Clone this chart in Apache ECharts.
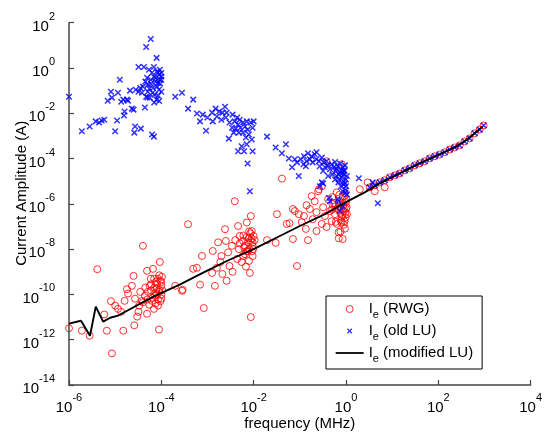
<!DOCTYPE html>
<html>
<head>
<meta charset="utf-8">
<script src="https://cdn.jsdelivr.net/npm/echarts@6/dist/echarts.min.js"></script>
<style>
html,body{margin:0;padding:0;background:#fff;}
#chart{width:545px;height:436px;}
</style>
</head>
<body>
<div id="chart"></div>
<script>
// ---- data: [frequency (MHz), current amplitude (A)] ----
const xTicks = [1e-6, 1e-4, 1e-2, 1e0, 1e2, 1e4];
const yTicks = [1e-14, 1e-12, 1e-10, 1e-8, 1e-6, 1e-4, 1e-2, 1e0, 1e2];
const seriesNames = ['Ie (RWG)', 'Ie (old LU)', 'Ie (modified LU)'];

const rwgScatter = [
 [1e-6,3.2e-12],[1.9e-6,2.5e-12],[2.8e-6,1.5e-12],[4.1e-6,1.3e-9],[5.8e-6,1.3e-11],[6.6e-6,2.5e-12],
 [8.1e-6,5e-11],[8.5e-6,2.5e-13],[1e-5,3.2e-11],[1.15e-5,2.3e-11],[1.35e-5,1.7e-11],[1.5e-5,2.5e-12],
 [1.6e-5,5.2e-11],[1.8e-5,1.7e-10],[1.9e-5,1.1e-10],[2.3e-5,2.4e-10],[2.5e-5,6.6e-10],[2.6e-5,4.3e-12],
 [2.7e-5,6.5e-11],[3e-5,1.05e-11],[3.2e-5,1.7e-11],[3.3e-5,3.2e-11],[3.5e-5,1.3e-10],[3.8e-5,5.2e-11],
 [4e-5,1.4e-8],[4.4e-5,8.7e-11],[4.9e-5,1.4e-11],[4.9e-5,1.1e-9],[5.1e-5,1.3e-10],[5.6e-5,2.4e-10],
 [5.9e-5,4.9e-10],[6.3e-5,5.2e-11],[6.6e-5,1.35e-9],[6.9e-5,2.3e-11],[7.2e-5,8.7e-11],[7.6e-5,3.6e-10],
 [7.9e-5,1.8e-10],[8.5e-5,4.9e-10],[8.5e-5,3.2e-11],[8.9e-5,1.3e-10],[9.3e-5,2.7e-9],[1e-4,2.4e-10],
 [8.9e-5,2.8e-12],[1e-4,6.5e-11],[1.03e-4,6e-10],[2e-4,2.4e-10],[2.8e-4,1.45e-10],[4.9e-4,1.35e-9],
 [5.9e-4,1.5e-9],[6.9e-4,2.7e-10],[7.6e-4,5e-9],[8.3e-4,2.5e-11],[3.8e-4,1.26e-7],
 [6e-5,1.5e-10],[7e-5,2e-10],[8e-5,1e-10],[9e-5,1.6e-10],[6.5e-5,7e-11],[7.5e-5,4e-11],[8e-5,3e-10],
 [9.5e-5,4e-10],[5.5e-5,3.5e-11],[1e-4,1e-10],[4.5e-5,2e-10],[9e-5,7e-10],[7e-5,5e-10],[1.05e-4,1.5e-10],
 [5e-5,6e-11],[6e-5,2.8e-10],[8.5e-5,6e-11],[1e-4,3.5e-10],[4e-5,4.5e-11],[9.5e-5,5e-11],[7.5e-5,1.2e-10],
 [2.9e-4,1.6e-10],[1.45e-3,2.4e-10],[1.26e-3,8.9e-10],[1.3e-3,8.3e-9],[1.6e-3,1.5e-9],[1.7e-3,2e-8],
 [1.9e-3,2.7e-9],[2e-3,5e-9],[2.1e-3,8e-10],[2.4e-3,7.6e-8],[2.5e-3,2.3e-8],[2.6e-3,4e-10],[2.8e-3,7.2e-9],
 [3e-3,1.8e-9],[3.4e-3,1.4e-8],[3.5e-3,1e-9],[3.9e-3,1.3e-6],[4.4e-3,3.7e-9],[4.6e-3,1.05e-7],[4.8e-3,1e-8],
 [5e-3,3.8e-8],[5.5e-3,2.7e-9],[5.9e-3,2.3e-8],[5.9e-3,5e-9],[6.5e-3,1.4e-8],[6.8e-3,1.7e-9],[7.1e-3,1.5e-7],
 [7.1e-3,3.4e-8],[7.4e-3,8.3e-9],[7.9e-3,3e-9],[8.3e-3,8.9e-10],[8.7e-3,2.3e-8],[8.7e-3,2.9e-7],[9.1e-3,6.3e-8],
 [9.5e-3,1.4e-8],[9.5e-3,5e-9],[1e-2,3.8e-8],[7.5e-3,2e-8],[8e-3,1e-8],[6e-3,4e-8],[9e-3,3e-8],[5e-3,1.8e-8],
 [8.5e-3,5e-8],[6.5e-3,6e-9],[9.5e-3,2e-8],[4e-3,2.5e-8],[7e-3,8e-9],[8.7e-3,1e-11],
 [8e-3,6e-8],[9.8e-3,1e-8],[6.2e-3,1.2e-8],[7.8e-3,3e-8],[9.2e-3,8e-9],[1.05e-2,2.5e-8],
 [1.95e-2,2.5e-8],[3e-2,1.9e-8],[3.2e-2,3.5e-7],[5.2e-2,1.3e-7],[6e-2,1.4e-7],[7.1e-2,2.8e-8],[7.8e-2,4.8e-7],
 [8.7e-2,1.8e-9],[9.5e-2,3.5e-7],[1.1e-1,1.55e-7],[1.23e-1,2.9e-7],[1.35e-1,7.8e-8],[1.4e-1,8.7e-7],
 [1.5e-1,2.5e-8],[1.65e-1,5.9e-7],[1.8e-1,2.2e-6],[1.9e-1,2.1e-7],[2.1e-1,1.3e-6],[2.3e-1,6.3e-8],
 [2.3e-1,4.3e-7],[2.6e-1,4.4e-6],[3e-1,1.3e-7],[3.2e-1,7.1e-7],[3.5e-1,2.9e-7],[3.8e-1,9.5e-8],[4.1e-1,1.6e-6],
 [4.5e-1,4.8e-7],[4.9e-1,1.7e-7],[5.1e-1,9.8e-7],[5.8e-1,3.5e-7],[6.3e-1,3.2e-6],[6.3e-1,1.3e-7],[6.9e-1,5.6e-8],
 [7.4e-1,7.1e-7],[8.1e-1,2.6e-7],[8.5e-1,2e-6],[8.5e-1,2.8e-8],[8.9e-1,4.8e-7],[9.3e-1,1.7e-7],[1,1.2e-6],
 [1.05,3.5e-7],[4.1e-2,1.3e-5],[3.8e-1,7.6e-5],[8.1e-1,5.6e-5],[2,4.4e-6],[2.95,8.9e-6],[2.5e-1,3.6e-6],
 [3e-1,6e-6],[5.1e-1,2e-6],[7.1e-2,5.9e-7],[4.2,3.6e-6],[6.9,5.4e-6],
 [9e-1,6e-7],[7e-1,1e-6],[9.5e-1,3e-6],[6e-1,8e-7],[8e-1,1.5e-7],[1,6e-7],[7.5e-1,4e-7],
 [0.55,1.1e-6],[0.65,6e-7],[0.72,2.5e-6],[0.78,1.8e-7],[0.88,9e-7],[0.92,2.2e-6],[0.97,4e-7],[1.02,1.5e-6],
 [0.83,3.2e-7],[0.6,1.6e-7],[0.5,5.5e-7],[0.7,3e-8],[0.95,8e-8],[0.9,1.2e-7],[1.03,7e-7],[0.98,2.5e-7],
 [0.86,1.1e-6],[0.76,6e-8]
];

const bandPoints = [
 [3.27,5.4e-6],[4.2,6.6e-6],[5.4,8.9e-6],[6.9,1.1e-5],[8.9,1.5e-5],[11.4,1.8e-5],[14.6,2.2e-5],
 [18.8,3.0e-5],[24,3.7e-5],[30.8,5.0e-5],[39.6,6.2e-5],[50.8,7.6e-5],[65,1.02e-4],[84,1.26e-4],
 [107,1.5e-4],[138,1.9e-4],[177,2.5e-4],[226,3.1e-4],[290,3.8e-4],[372,5.7e-4],[478,7.8e-4],
 [614,1.3e-3],[787,1.9e-3],[962,2.9e-3]
];

const oldLuScatter = [
 [1e-6,5.4e-2],[1.9e-6,1.6e-3],[2.8e-6,2.6e-3],[3.8e-6,4.4e-3],[4.5e-6,3.9e-3],[5.1e-6,4.8e-3],[5.8e-6,5.2e-3],
 [6.9e-6,3.6e-2],[8.1e-6,8.9e-2],[8.5e-6,4.9e-2],[1e-5,1.6e-3],[1.1e-5,4.8e-3],[1.15e-5,8.1e-2],[1.26e-5,3e-1],
 [1.35e-5,3.2e-2],[1.5e-5,4e-2],[1.55e-5,7.9e-3],[1.6e-5,1.2e-2],[1.8e-5,4e-2],[1.9e-5,3.6e-2],[2.1e-5,1e-1],
 [2.3e-5,1.6e-2],[2.5e-5,1.45e-2],[2.6e-5,1.4e-3],[2.7e-5,2.6e-3],[2.8e-5,1.1e-1],[3.2e-5,1.1],[3.2e-5,8.9e-2],
 [3.5e-5,1.3e-1],[3.6e-5,2.1e-3],[3.8e-5,8.1e-2],[4e-5,1.5e-1],[4.2e-5,1.1],[4.4e-5,1.8e-2],[4.7e-5,8.5],
 [4.7e-5,5.4e-2],[4.9e-5,3.7e-1],[5.1e-5,8.9e-2],[5.1e-5,1.8e-1],[5.4e-5,8.3e-1],[5.6e-5,4.9e-2],[5.9e-5,19],
 [5.9e-5,3e-1],[6.3e-5,1.15e-3],[6.3e-5,6.2e-1],[6.6e-5,1.3e-1],[6.9e-5,9.3e-4],[6.9e-5,1.1],[7.2e-5,6.6e-2],
 [7.6e-5,3.7e-1],[7.9e-5,2.8],[7.9e-5,4e-2],[8.5e-5,2.2e-1],[8.5e-5,6.2e-1],[8.9e-5,1.1e-1],[9.3e-5,8.3e-1],
 [9.3e-5,3e-1],[1e-4,8.9e-2],[1e-4,4.2e-1],[2e-4,5.4e-2],[2.8e-4,8.1e-2],[3.8e-4,1.6e-2],[4.9e-4,4e-2],
 [5.9e-4,9.8e-3],[6.9e-4,4.4e-3],
 [6e-5,2e-1],[7e-5,4e-1],[8e-5,1.5e-1],[9e-5,5e-1],[6.5e-5,8e-2],[7.5e-5,2.5e-1],[8.5e-5,6e-2],[9.5e-5,2e-1],
 [5.5e-5,1.2e-1],[1e-4,3e-1],[4.5e-5,2.5e-1],[8e-5,7e-1],[7e-5,3e-2],[1e-4,6e-1],[5e-5,5e-2],[9e-5,3.5e-2],
 [7.9e-4,8.7e-3],[9.3e-4,1.7e-3],[1e-3,6.5e-3],[1.26e-3,1.07e-2],[1.3e-3,4.4e-3],[1.5e-3,1.6e-2],[1.6e-3,7.2e-3],
 [1.8e-3,1.2e-2],[2e-3,5.2e-3],[2.1e-3,1.07e-2],[2.4e-3,1.95e-2],[2.5e-3,6.5e-3],[2.6e-3,1.07e-2],[2.9e-3,7.6e-4],
 [3e-3,3.9e-3],[3.4e-3,2.3e-3],[3.5e-3,8.7e-3],[3.7e-3,1.4e-3],[3.9e-3,4.4e-3],[4.1e-3,2.1e-3],[4.4e-3,6.5e-3],
 [4.6e-3,2.1e-4],[4.6e-3,3.2e-3],[4.8e-3,1.4e-3],[5e-3,5.2e-3],[5.2e-3,2.3e-3],[5.5e-3,3.5e-4],[5.9e-3,3.9e-3],
 [5.9e-3,1.4e-3],[6.2e-3,2.1e-4],[6.5e-3,2.6e-3],[6.8e-3,8.5e-4],[7.1e-3,4.4e-3],[7.1e-3,4.3e-4],[7.4e-3,1.9e-3],
 [7.4e-3,6e-5],[7.9e-3,1.15e-3],[8.3e-3,3.6e-6],[8.7e-3,3.9e-3],[9.1e-3,6.9e-4],[9.5e-3,2.1e-4],[9.5e-3,2.3e-3],
 [1e-2,4.4e-3],[1.95e-2,9.3e-4],[3e-2,3.1e-4],[4.1e-2,1.7e-4],[5e-2,4.3e-4],[5.8e-2,1e-4],[6.8e-2,4.1e-5],
 [7.8e-2,9.3e-5],[8.7e-2,6.8e-5],[9.5e-2,1.7e-5],[1.05e-1,9.3e-5],[1.2e-1,5.6e-5],[1.23e-1,1.26e-4],[1.35e-1,4.6e-5],
 [1.4e-1,7.6e-5],[1.5e-1,1.7e-4],[1.65e-1,9.3e-5],[1.8e-1,1.26e-4],[1.9e-1,6.8e-5],[2.1e-1,1.55e-4],[2.3e-1,1.9e-4],
 [2.3e-1,9.3e-5],[2.6e-1,7.6e-5],[2.7e-1,4.6e-5],[3e-1,1.1e-4],[3.2e-1,2.8e-5],[3.3e-1,6.8e-5],[3.5e-1,4.1e-5],
 [3.8e-1,7.6e-5],[4.1e-1,1.7e-5],[4.1e-1,5e-5],[4.5e-1,3.4e-5],[4.9e-1,5.6e-5],[5.1e-1,2e-5],[5.5e-1,4.1e-5],
 [5.8e-1,1.2e-5],[6e-1,2.8e-5],[6.3e-1,1.7e-5],[6.6e-1,4.6e-5],[6.9e-1,8.9e-6],[7.4e-1,2.5e-5],[7.8e-1,6e-6],
 [8.1e-1,1.5e-5],[8.5e-1,4.1e-5],[8.5e-1,3.6e-6],[8.9e-1,1e-5],[9.3e-1,2.8e-5],[1,6e-6],[1.05,1.7e-5],[1.05,2.6e-6],
 [4.9,1.07e-6],[1.9,1.35e-5],[3.8,8.9e-6],[4.3e-1,1.8e-6],[6.9e-1,1.3e-6],[3.2e-1,7.9e-6],[3e-1,8.9e-6],
 [4.5e-1,1.3e-6],[6.6e-1,1.6e-6],[7.4e-1,4.8e-7],[8.5e-1,7.9e-7],[2.7e-1,6e-6],
 [9e-1,2e-5],[9.5e-1,8e-6],[8e-1,3e-5],[7e-1,1.2e-5],[9.8e-1,4e-6],
 [0.95,5e-5],[0.9,3e-5],[0.75,6e-5],[0.58,7e-5],[0.62,3.5e-5],[0.82,2.2e-5],[0.88,7e-6],[1.0,1.2e-5],
 [0.97,3e-6],[0.7,2e-5]
];

const modifiedLu = [
 [1e-6,5.1e-12],[1.82e-6,6.9e-12],[2.85e-6,1.5e-12],[3.8e-6,2.9e-11],[5.5e-6,6.3e-12],[7.8e-6,9.3e-12],
 [1.15e-5,1.15e-11],[1.9e-5,2.0e-11],[3.5e-5,3.9e-11],[7.3e-5,8.7e-11],[2.5e-4,2.7e-10],[8.7e-4,1e-9],
 [3.0e-3,3.4e-9],[1e-2,1.0e-8],[3.7e-2,3.8e-8],[0.1,1.05e-7],[0.35,3.5e-7],[1,1.2e-6],[2.6,3.3e-6],
 [5.4,8.1e-6],[14.5,2.2e-5],[40,6.2e-5],[107,1.55e-4],[224,3.1e-4],[372,5.8e-4],[617,1.3e-3],[912,2.6e-3]
];

const FONT = '"Liberation Sans", Arial, sans-serif';
function expLabel(v) {
  const e = Math.round(Math.log10(v));
  return '{b|10}{s|' + e + '}';
}
const labelRich = {
  b: { fontSize: 15, lineHeight: 15, padding: [8, 0, 0, 0], fontFamily: FONT, color: '#000' },
  s: { fontSize: 11, lineHeight: 11, padding: [0, 0, 12, 0], fontFamily: FONT, color: '#000' }
};
const axisCol = '#444';

// legend icons (28x14 boxes, extra moveTo keeps the box size)
const iconCircle = 'path://M0,0M28,14M10.5,7A3.5,3.5,0,1,0,17.5,7A3.5,3.5,0,1,0,10.5,7Z';
const iconCross = 'path://M0,0M28,14M11.8,4.8L16.2,9.2M16.2,4.8L11.8,9.2';
const iconLine = 'path://M0,0M28,14M0,6.1H28V7.9H0Z';

const chart = echarts.init(document.getElementById('chart'), null, { renderer: 'canvas' });
chart.setOption({
  animation: false,
  backgroundColor: '#fff',
  grid: { left: 69, right: 14, top: 22.7, bottom: 49.3, containLabel: false },
  xAxis: {
    type: 'log', logBase: 10, min: xTicks[0], max: xTicks[xTicks.length - 1], interval: 2,
    name: 'frequency (MHz)', nameLocation: 'middle', nameGap: 31, nameMoveOverlap: false,
    nameTextStyle: { fontSize: 15, fontFamily: FONT, color: '#000' },
    axisLine: { show: true, onZero: false, lineStyle: { color: axisCol, width: 1.5 } },
    axisTick: { show: true, inside: true, length: 5, lineStyle: { color: axisCol, width: 1.2 } },
    minorTick: { show: false },
    splitLine: { show: false },
    axisLabel: { margin: 11, formatter: expLabel, rich: labelRich, showMinLabel: true, showMaxLabel: true }
  },
  yAxis: {
    type: 'log', logBase: 10, min: yTicks[0], max: yTicks[yTicks.length - 1], interval: 2,
    name: 'Current Amplitude (A)', nameLocation: 'middle', nameGap: 40, nameMoveOverlap: false,
    nameTextStyle: { fontSize: 15, fontFamily: FONT, color: '#000', padding: [0, 0, 0, 21] },
    axisLine: { show: true, onZero: false, lineStyle: { color: axisCol, width: 1.5 } },
    axisTick: { show: true, inside: true, length: 5, lineStyle: { color: axisCol, width: 1.2 } },
    splitLine: { show: false },
    axisLabel: { margin: 14, formatter: expLabel, rich: labelRich, showMinLabel: true, showMaxLabel: true }
  },
  legend: {
    orient: 'vertical', left: 326, top: 296,
    padding: [2, 9, 5, 9],
    backgroundColor: '#fff', borderColor: '#000', borderWidth: 1,
    itemWidth: 28, itemHeight: 14, itemGap: 0,
    textStyle: {
      fontSize: 15, lineHeight: 16, fontFamily: FONT, color: '#000',
      rich: { sub: { fontSize: 11, lineHeight: 11, fontFamily: FONT, color: '#000', padding: [11, 0, 0, 0] } }
    },
    formatter: function (name) { return name.replace('Ie', 'I{sub|e}'); },
    data: [
      { name: seriesNames[0], icon: iconCircle,
        itemStyle: { color: 'rgba(0,0,0,0)', borderColor: '#ff0000', borderWidth: 1 } },
      { name: seriesNames[1], icon: iconCross,
        itemStyle: { color: 'rgba(0,0,0,0)', borderColor: '#0000ff', borderWidth: 1.3 } },
      { name: seriesNames[2], icon: iconLine,
        itemStyle: { color: '#000', borderWidth: 0 } }
    ]
  },
  series: [
    {
      name: seriesNames[0], type: 'scatter', symbol: 'circle', symbolSize: 7,
      itemStyle: { color: 'rgba(0,0,0,0)', borderColor: '#ff0000', borderWidth: 1 },
      data: rwgScatter.concat(bandPoints), z: 2, silent: true
    },
    {
      name: seriesNames[1], type: 'scatter', symbol: 'path://M0,0L10,10M10,0L0,10', symbolSize: 5.5,
      itemStyle: { color: 'rgba(0,0,0,0)', borderColor: '#0000ff', borderWidth: 1.5 },
      data: oldLuScatter.concat(bandPoints), z: 3, silent: true
    },
    {
      name: seriesNames[2], type: 'line', showSymbol: false, symbol: 'none',
      lineStyle: { color: '#000', width: 1.9 }, itemStyle: { color: '#000' },
      data: modifiedLu, z: 4, silent: true
    }
  ]
});
</script>
</body>
</html>
